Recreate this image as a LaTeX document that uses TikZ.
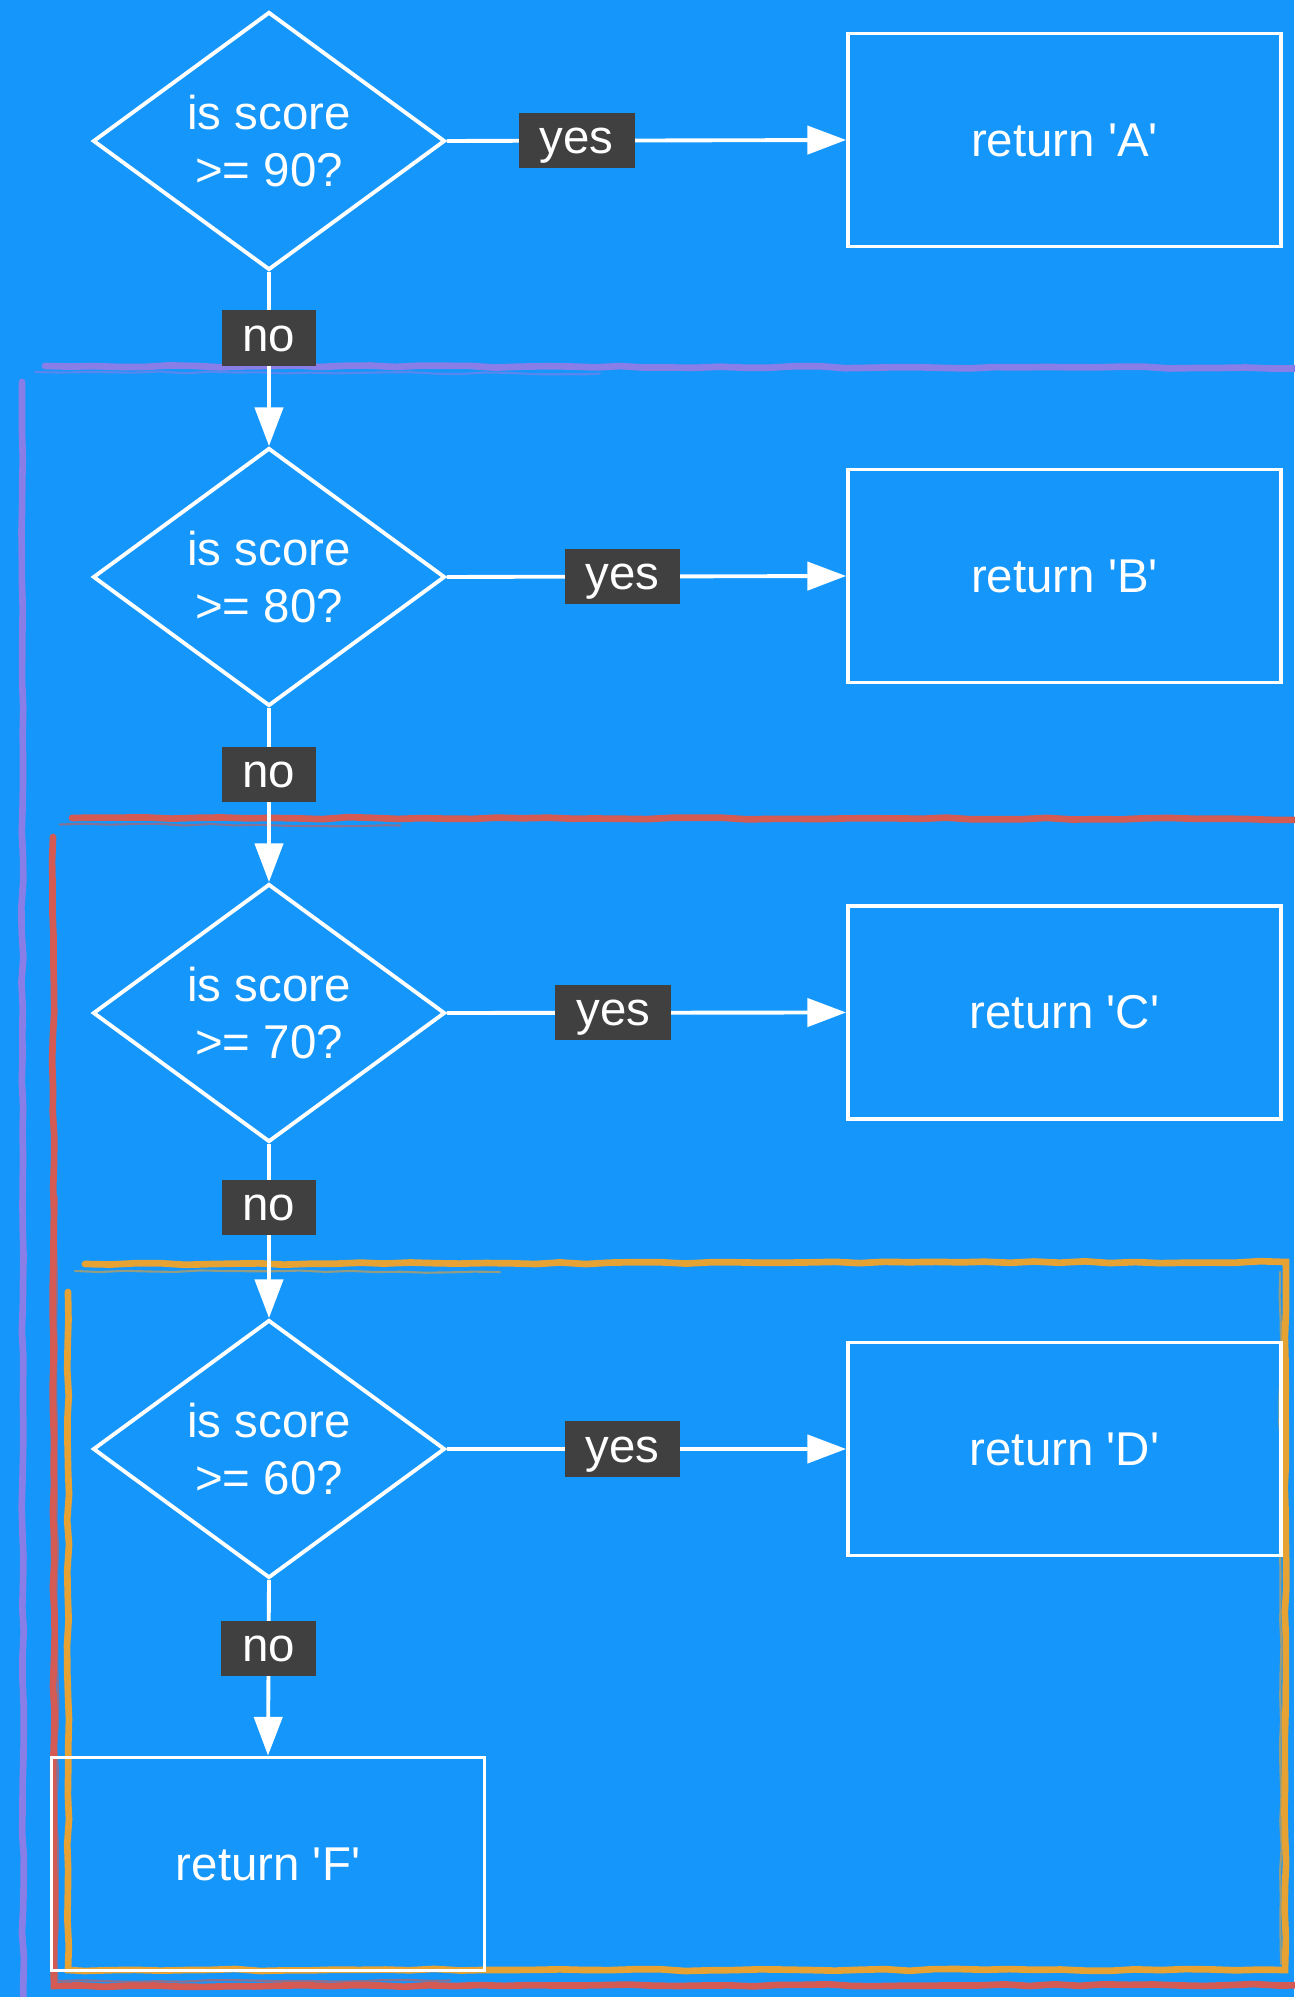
\documentclass[tikz,border=0pt]{standalone}
\usepackage{fontspec}
\setmainfont{Liberation Sans}
\usetikzlibrary{shapes.geometric,arrows.meta,decorations.pathmorphing,positioning}
\definecolor{bgblue}{RGB}{20,150,250}
\definecolor{tagdark}{RGB}{64,64,64}
\definecolor{sketchpurple}{RGB}{137,126,232}
\definecolor{sketchred}{RGB}{212,90,84}
\definecolor{sketchorange}{RGB}{231,162,52}
\newcommand{\q}{\textquotesingle}

\begin{document}
\begin{tikzpicture}[
  font=\fontsize{27}{32}\selectfont,
  test/.style={diamond, draw=white, line width=2.2pt, text=white, align=center,
    minimum width=7.04cm, minimum height=5.16cm, inner sep=0pt},
  ret/.style={rectangle, draw=white, line width=2.2pt, text=white,
    minimum width=8.66cm, minimum height=4.26cm},
  flow/.style={white, line width=2.2pt, -{Triangle[length=22pt,width=16pt]}},
  tag/.style={fill=tagdark, text=white, inner xsep=0.42cm, inner ysep=3.2pt,
    text height=20pt, text depth=5pt},
  sketch/.style={line width=3.8pt, line cap=round, decorate,
    decoration={random steps, segment length=5mm, amplitude=0.6pt}},
  thin sketch/.style={sketch, line width=1.2pt, opacity=0.6},
]
  % Background
  \fill[bgblue] (0,0) rectangle (25.88,39.94);
  \useasboundingbox (0,0) rectangle (25.88,39.94);

  % Hand-drawn frames
  \draw[sketch, sketchpurple] (0.9,32.62) -- (26.3,32.58);
  \draw[thin sketch, sketchpurple] (0.7,32.50) -- (12,32.47);
  \draw[sketch, sketchpurple] (0.44,32.3) -- (0.46,-0.3);

  \draw[sketch, sketchred] (1.44,23.58) -- (26.3,23.56);
  \draw[thin sketch, sketchred] (1.2,23.45) -- (8,23.43);
  \draw[sketch, sketchred] (1.06,23.2) -- (1.08,0.22) -- (26.3,0.24);
  \draw[thin sketch, sketchred] (1.14,16) -- (1.15,0.32) -- (9,0.33);

  \draw[sketch, sketchorange] (1.7,14.66) -- (25.72,14.70) -- (25.70,0.54) -- (1.36,0.54) -- (1.36,14.1);
  \draw[thin sketch, sketchorange] (1.5,14.52) -- (10,14.50);
  \draw[thin sketch, sketchorange] (25.60,14.5) -- (25.62,0.66);

  % Tests
  \node[test] (q90) at (5.38,37.12) {is score\\>= 90?};
  \node[test] (q80) at (5.38,28.40) {is score\\>= 80?};
  \node[test] (q70) at (5.38,19.68) {is score\\>= 70?};
  \node[test] (q60) at (5.38,10.96) {is score\\>= 60?};

  % Results
  \node[ret] (rA) at (21.29,37.14) {return \q A\q};
  \node[ret] (rB) at (21.29,28.42) {return \q B\q};
  \node[ret] (rC) at (21.29,19.69) {return \q C\q};
  \node[ret] (rD) at (21.29,10.96) {return \q D\q};
  \node[ret] (rF) at (5.36,2.66) {return \q F\q};

  % yes branches
  \draw[flow] (q90.east) -- node[tag, pos=0.325] (y90) {yes} (rA.west);
  \draw[flow] (q80.east) -- node[tag, pos=0.44] (y80) {yes} (rB.west);
  \draw[flow] (q70.east) -- node[tag, pos=0.417] (y70) {yes} (rC.west);
  \draw[flow] (q60.east) -- node[tag, pos=0.44] (y60) {yes} (rD.west);

  % no branches
  \draw[flow] (q90.south) -- node[tag, pos=0.38] (n90) {no} (q80.north);
  \draw[flow] (q80.south) -- node[tag, pos=0.38] (n80) {no} (q70.north);
  \draw[flow] (q70.south) -- node[tag, pos=0.365] (n70) {no} (q60.north);
  \draw[flow] (q60.south) -- node[tag, pos=0.39] (n60) {no} (rF.north);
\end{tikzpicture}
\end{document}
